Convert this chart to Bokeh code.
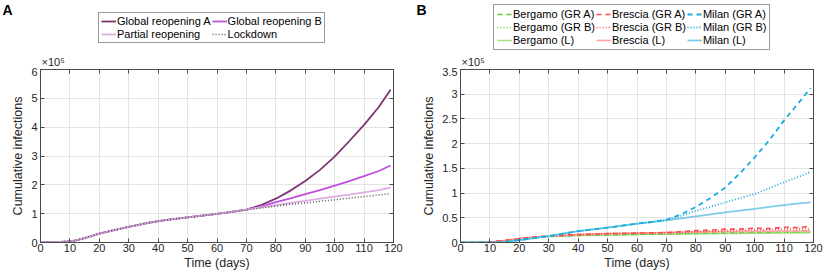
from bokeh.plotting import figure
from bokeh.models import (Range1d, LinearAxis, FixedTicker, Legend, LegendItem,
                          Label, CustomJSTickFormatter)
from bokeh.layouts import row, column
from bokeh.embed import file_html
from bokeh.resources import INLINE

# ---------------- Data (values in units of 1e5) ----------------
days_a = [0, 5, 10, 12, 15, 20, 25, 30, 35, 40, 45, 50, 55, 60, 65, 70,
          75, 80, 85, 90, 95, 100, 105, 110, 115, 119]
global_a = [0, 0.01, 0.04, 0.07, 0.15, 0.31, 0.43, 0.54, 0.65, 0.74, 0.81, 0.87, 0.93, 0.99, 1.06, 1.14,
            1.30, 1.52, 1.80, 2.13, 2.52, 2.98, 3.52, 4.08, 4.70, 5.30]
global_b = [0, 0.01, 0.04, 0.07, 0.15, 0.31, 0.43, 0.54, 0.65, 0.74, 0.81, 0.87, 0.93, 0.99, 1.06, 1.14,
            1.25, 1.40, 1.53, 1.68, 1.82, 1.97, 2.13, 2.30, 2.48, 2.67]
partial = [0, 0.01, 0.04, 0.07, 0.15, 0.31, 0.43, 0.54, 0.65, 0.74, 0.81, 0.87, 0.93, 0.99, 1.06, 1.14,
           1.22, 1.30, 1.37, 1.44, 1.52, 1.59, 1.66, 1.74, 1.82, 1.90]
lockdown = [0, 0.01, 0.04, 0.07, 0.15, 0.31, 0.43, 0.54, 0.65, 0.74, 0.81, 0.87, 0.93, 0.99, 1.06, 1.13,
            1.20, 1.26, 1.32, 1.37, 1.43, 1.48, 1.54, 1.59, 1.65, 1.69]

days_b = [0, 5, 10, 13, 15, 20, 25, 30, 35, 40, 45, 50, 55, 60, 65, 70,
          75, 80, 85, 90, 95, 100, 105, 110, 115, 119]
milan_l = [0, 0, 0, 0, 0.01, 0.05, 0.09, 0.13, 0.18, 0.23, 0.265, 0.30, 0.34, 0.38, 0.415, 0.45,
           0.49, 0.53, 0.57, 0.61, 0.645, 0.68, 0.72, 0.755, 0.79, 0.81]
milan_gra = [0, 0, 0, 0, 0.01, 0.05, 0.09, 0.13, 0.18, 0.23, 0.265, 0.30, 0.34, 0.38, 0.415, 0.46,
             0.57, 0.72, 0.90, 1.11, 1.40, 1.72, 2.07, 2.47, 2.83, 3.12]
milan_grb = [0, 0, 0, 0, 0.01, 0.05, 0.09, 0.13, 0.18, 0.23, 0.265, 0.30, 0.34, 0.38, 0.415, 0.455,
             0.54, 0.64, 0.72, 0.81, 0.90, 0.98, 1.10, 1.22, 1.33, 1.43]
brescia_l = [0, 0, 0.01, 0.03, 0.04, 0.08, 0.11, 0.13, 0.145, 0.16, 0.17, 0.18, 0.185, 0.19, 0.195, 0.20,
             0.205, 0.21, 0.215, 0.22, 0.222, 0.225, 0.228, 0.23, 0.232, 0.235]
brescia_gra = [0, 0, 0.01, 0.03, 0.04, 0.08, 0.11, 0.13, 0.145, 0.16, 0.17, 0.18, 0.185, 0.19, 0.195, 0.20,
               0.22, 0.24, 0.25, 0.27, 0.27, 0.29, 0.28, 0.31, 0.30, 0.33]
brescia_grb = [0, 0, 0.01, 0.03, 0.04, 0.08, 0.11, 0.13, 0.145, 0.16, 0.17, 0.18, 0.185, 0.19, 0.195, 0.20,
               0.21, 0.22, 0.23, 0.24, 0.245, 0.25, 0.26, 0.27, 0.275, 0.28]
bergamo_l = [0, 0, 0.01, 0.02, 0.03, 0.07, 0.10, 0.12, 0.135, 0.145, 0.15, 0.155, 0.16, 0.165, 0.17, 0.172,
             0.175, 0.178, 0.18, 0.182, 0.185, 0.188, 0.19, 0.192, 0.195, 0.197]
bergamo_gra = [0, 0, 0.01, 0.02, 0.03, 0.07, 0.10, 0.12, 0.135, 0.145, 0.15, 0.155, 0.16, 0.165, 0.17, 0.172,
               0.18, 0.19, 0.195, 0.20, 0.205, 0.21, 0.215, 0.22, 0.225, 0.23]
bergamo_grb = [0, 0, 0.01, 0.02, 0.03, 0.07, 0.10, 0.12, 0.135, 0.145, 0.15, 0.155, 0.16, 0.165, 0.17, 0.172,
               0.178, 0.183, 0.187, 0.19, 0.195, 0.20, 0.203, 0.207, 0.21, 0.213]

x_ticks = list(range(0, 121, 10))
y_ticks_a = [0, 1, 2, 3, 4, 5, 6]
y_ticks_b = [0, 0.5, 1, 1.5, 2, 2.5, 3, 3.5]

FONT = "Liberation Sans"
TXT = "#262626"
AXC = "#4a4a4a"
TOP_H = 67
MAIN_H = 205
NAN = float("nan")

fmt = CustomJSTickFormatter(code="return String(Math.round(tick*100)/100);")


def box_axis(ticks):
    # tick marks only (MATLAB-style box); labels not drawn
    return LinearAxis(ticker=FixedTicker(ticks=ticks), major_label_text_font_size="1px",
                      major_label_text_color=None, major_tick_in=4, major_tick_out=0,
                      minor_tick_line_color=None, axis_line_color=AXC,
                      major_tick_line_color=AXC, major_label_standoff=0)


def make_fig(width, left, right, ymax, yticks):
    p = figure(width=width, height=MAIN_H, output_backend="svg", toolbar_location=None,
               x_range=Range1d(0, 120), y_range=Range1d(0, ymax),
               min_border_left=left, min_border_right=right,
               min_border_top=2, min_border_bottom=29)
    p.outline_line_color = AXC
    p.background_fill_color = "white"
    p.border_fill_color = "white"
    p.xaxis.ticker = FixedTicker(ticks=x_ticks)
    p.yaxis.ticker = FixedTicker(ticks=yticks)
    p.yaxis.formatter = fmt
    for ax in (p.xaxis[0], p.yaxis[0]):
        ax.axis_line_color = AXC
        ax.major_tick_in = 4
        ax.major_tick_out = 0
        ax.major_tick_line_color = AXC
        ax.minor_tick_line_color = None
        ax.major_label_text_font = FONT
        ax.major_label_text_font_size = "11px"
        ax.major_label_text_color = TXT
        ax.axis_label_text_font = FONT
        ax.axis_label_text_font_size = "12.5px"
        ax.axis_label_text_font_style = "normal"
        ax.axis_label_text_color = TXT
    p.xaxis.major_label_standoff = 1
    p.xaxis.axis_label_standoff = 1
    p.yaxis.major_label_standoff = 3
    p.yaxis.axis_label_standoff = 3
    p.xaxis.axis_label = "Time (days)"
    p.yaxis.axis_label = "Cumulative infections"
    p.add_layout(box_axis(x_ticks), "above")
    p.add_layout(box_axis(yticks), "right")
    p.xgrid.grid_line_color = "#e4e4e4"
    p.ygrid.grid_line_color = "#e4e4e4"
    p.xgrid.ticker = FixedTicker(ticks=x_ticks)
    p.ygrid.ticker = FixedTicker(ticks=yticks)
    return p


def make_top(width):
    t = figure(width=width, height=TOP_H, output_backend="svg", toolbar_location=None,
               x_range=Range1d(0, 1), y_range=Range1d(0, 1),
               x_axis_location=None, y_axis_location=None,
               min_border=0, min_border_left=0, min_border_right=0,
               min_border_top=0, min_border_bottom=0)
    t.grid.visible = False
    t.outline_line_color = None
    t.background_fill_color = "white"
    t.border_fill_color = "white"
    return t


def style_legend(lg, pad):
    lg.label_text_font = FONT
    lg.label_text_font_size = "11px"
    lg.label_text_color = "black"
    lg.glyph_width = 15
    lg.glyph_height = 12
    lg.label_height = 12
    lg.label_standoff = 1
    lg.spacing = 1
    lg.padding = pad
    lg.margin = 0
    lg.border_line_color = "#333333"
    lg.border_line_width = 1
    lg.background_fill_color = "white"
    lg.background_fill_alpha = 1


def text_label(fig, x, y, txt, size, bold=False, baseline="bottom"):
    fig.add_layout(Label(x=x, y=y, x_units="screen", y_units="screen", text=txt,
                         text_font=FONT, text_font_size=size,
                         text_font_style="bold" if bold else "normal",
                         text_color="black" if bold else TXT, text_baseline=baseline))


# ---------------- Panel A ----------------
WA, WB = 415, 415
pa = make_fig(WA, 40, 22, 6, y_ticks_a)
sty_a = [dict(line_color="#7b3572", line_width=1.8),
         dict(line_color="#c04fe0", line_width=1.8),
         dict(line_color="#dcaedf", line_width=1.8),
         dict(line_color="#555555", line_width=1.5, line_dash="1 2")]
series_a = [global_a, global_b, partial, lockdown]
labels_a = ["Global reopening A", "Global reopening B", "Partial reopening", "Lockdown"]
for ys, st in zip(series_a, sty_a):
    pa.line(days_a, ys, **st)

ta = make_top(WA)
dummies_a = [ta.line([NAN], [NAN], **st) for st in sty_a]
order_a = [0, 2, 1, 3]
leg_a = Legend(items=[LegendItem(label=labels_a[i], renderers=[dummies_a[i]]) for i in order_a],
               location=(98, TOP_H - 43), ncols=2)
style_legend(leg_a, 2)
ta.add_layout(leg_a, "center")
text_label(ta, 2, TOP_H - 1, "A", "14px", bold=True, baseline="top")
text_label(ta, 41, 0, "×10⁵", "11px")

# ---------------- Panel B ----------------
pb = make_fig(WB, 45, 17, 3.5, y_ticks_b)
G, R, C = "#66cc33", "#ff4d4d", "#1aaedc"
GL, RL, CL = "#a9e08a", "#ffa3a3", "#7fcbe8"
sty_b = [dict(line_color=G, line_width=1.6, line_dash="5 4"),
         dict(line_color=G, line_width=1.6, line_dash="1 2"),
         dict(line_color=GL, line_width=1.6),
         dict(line_color=R, line_width=1.6, line_dash="5 4"),
         dict(line_color=R, line_width=1.6, line_dash="1 2"),
         dict(line_color=RL, line_width=1.6),
         dict(line_color=C, line_width=1.8, line_dash="5 4"),
         dict(line_color=C, line_width=1.8, line_dash="1 2"),
         dict(line_color=CL, line_width=1.8)]
series_b = [bergamo_gra, bergamo_grb, bergamo_l, brescia_gra, brescia_grb, brescia_l,
            milan_gra, milan_grb, milan_l]
labels_b = ["Bergamo (GR A)", "Bergamo (GR B)", "Bergamo (L)",
            "Brescia (GR A)", "Brescia (GR B)", "Brescia (L)",
            "Milan (GR A)", "Milan (GR B)", "Milan (L)"]
for i in [2, 0, 1, 5, 3, 4, 8, 6, 7]:
    pb.line(days_b, series_b[i], **sty_b[i])

tb = make_top(WB)
dummies_b = [tb.line([NAN], [NAN], **st) for st in sty_b]
leg_b = Legend(items=[LegendItem(label=l, renderers=[r]) for l, r in zip(labels_b, dummies_b)],
               location=(78, TOP_H - 50), ncols=3)
style_legend(leg_b, 3)
tb.add_layout(leg_b, "center")
text_label(tb, 1, TOP_H - 1, "B", "14px", bold=True, baseline="top")
text_label(tb, 46, 0, "×10⁵", "11px")

layout = row(column(ta, row(pa)), column(tb, row(pb)))
open("out.html", "w").write(file_html(layout, INLINE))
